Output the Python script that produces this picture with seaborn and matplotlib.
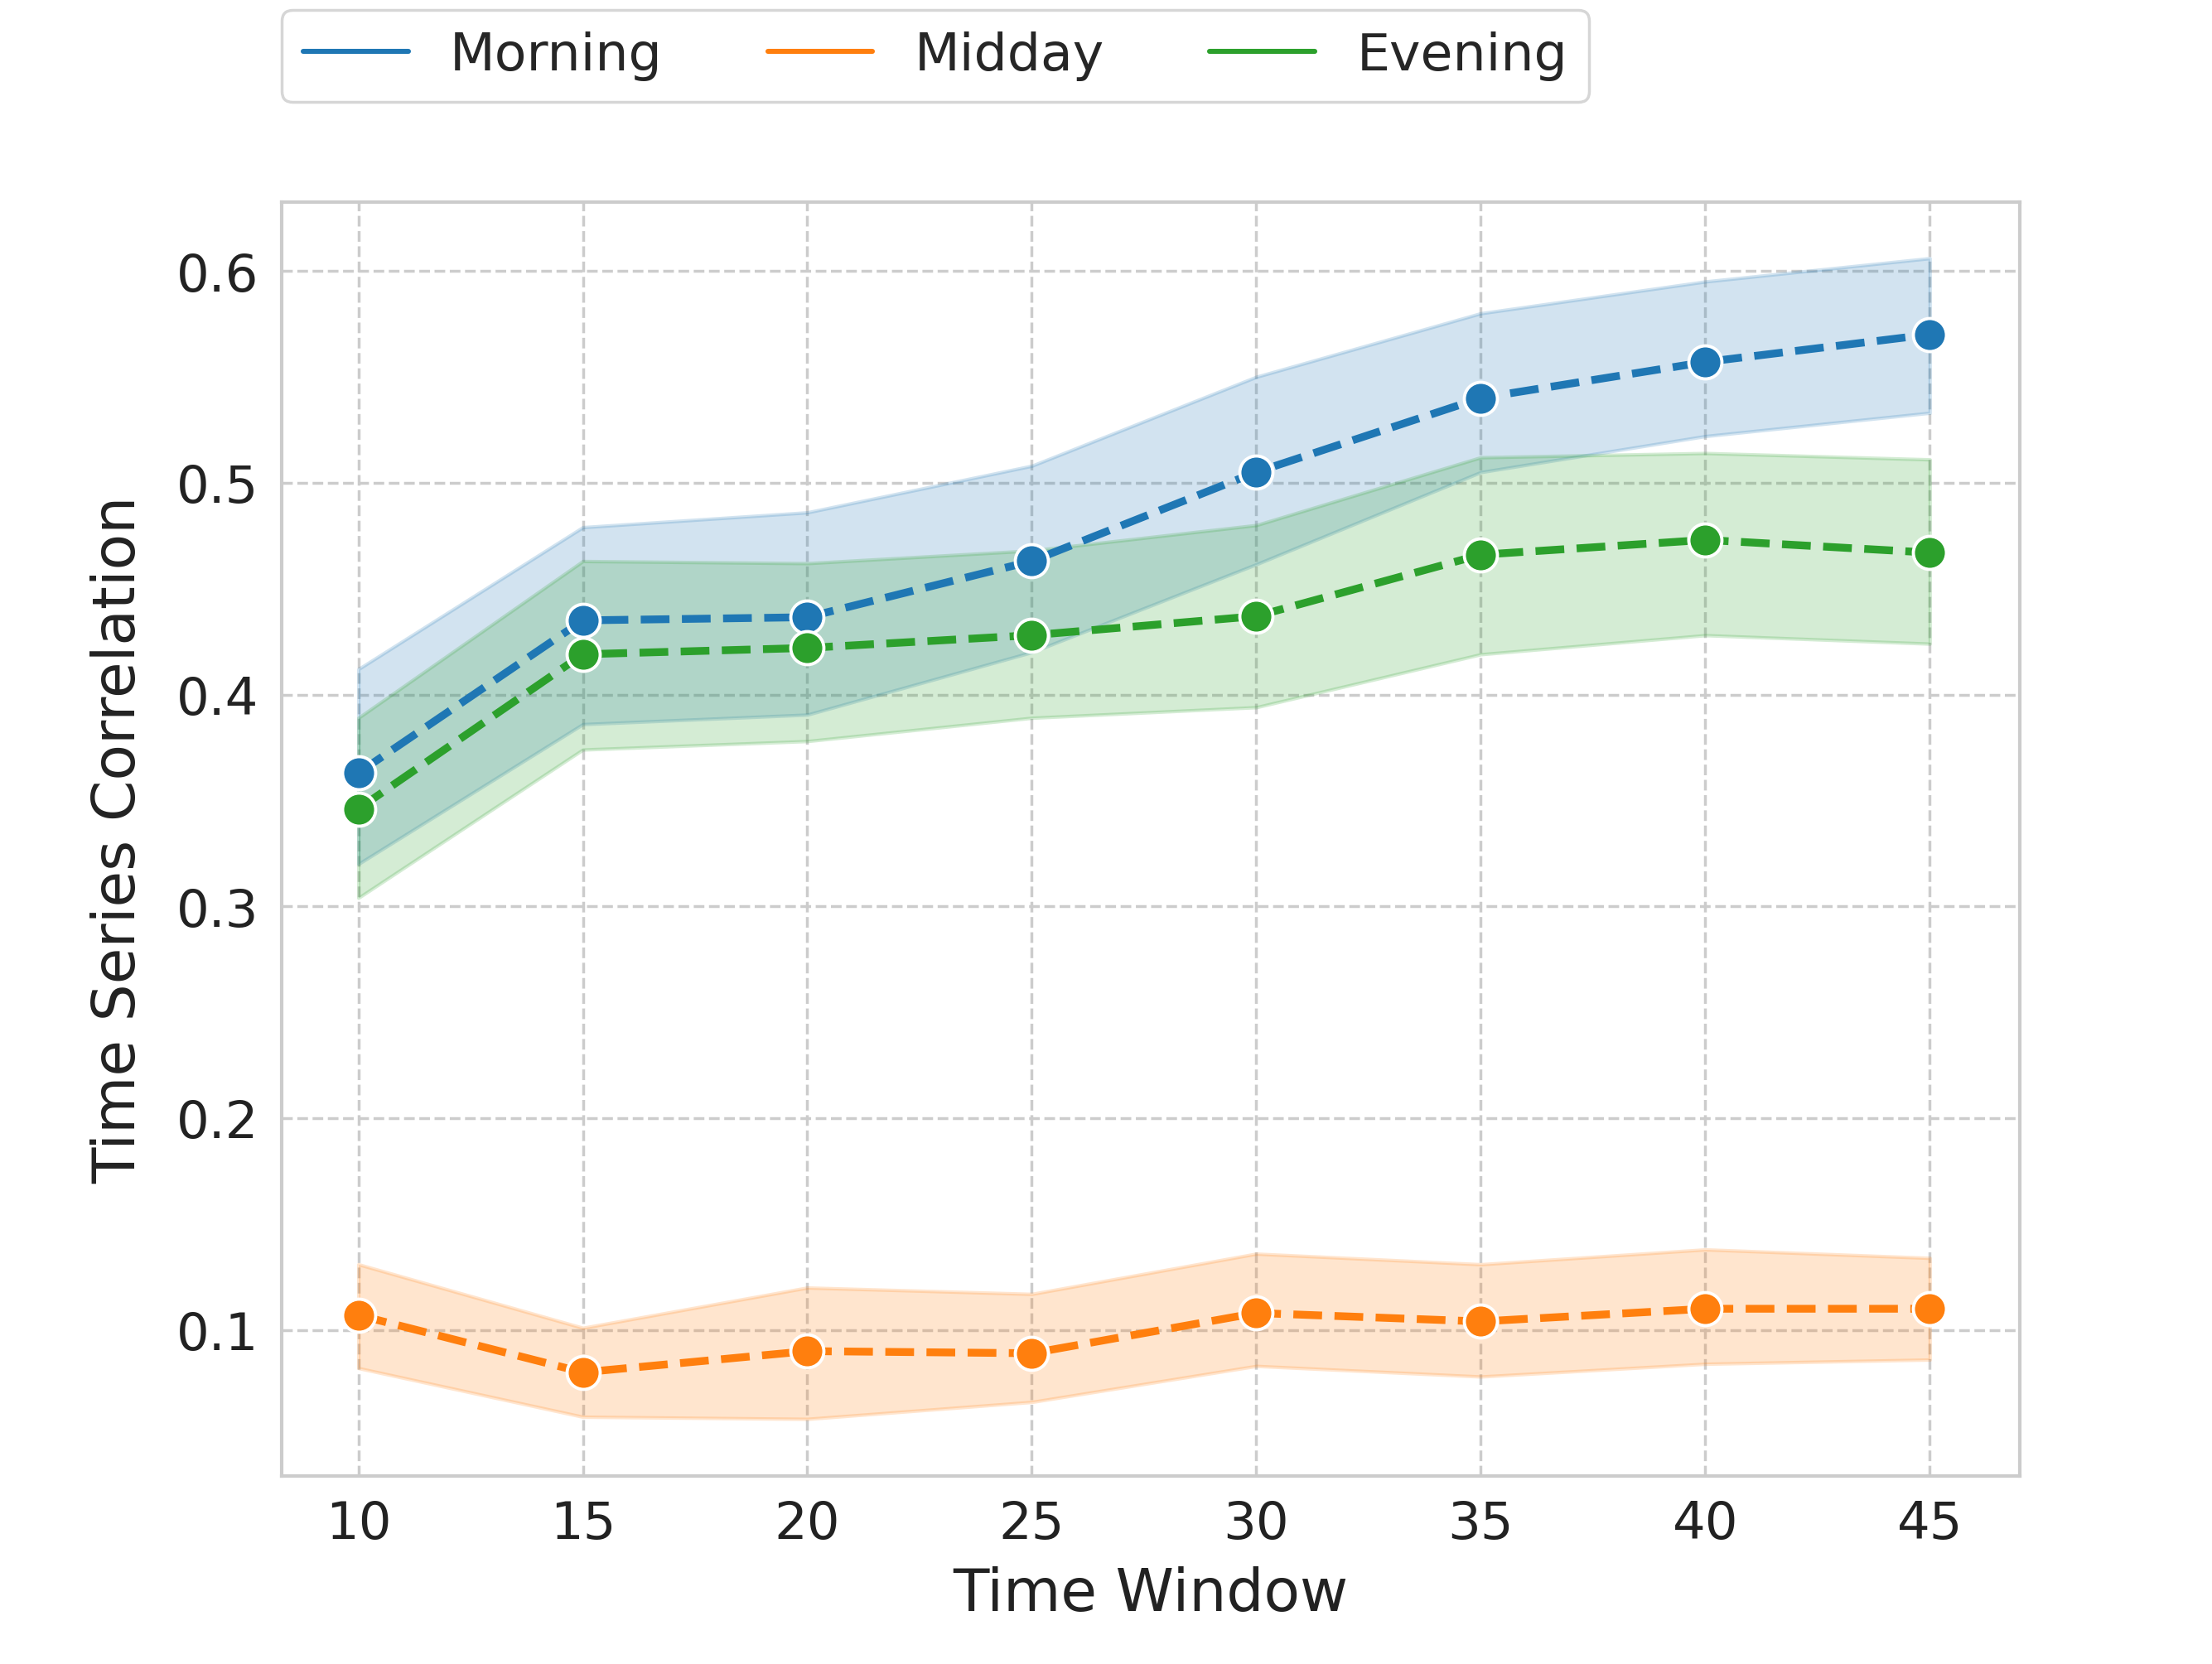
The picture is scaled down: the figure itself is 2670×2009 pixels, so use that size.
import numpy as np
import pandas as pd
import seaborn as sns
import matplotlib
matplotlib.use("Agg")
import matplotlib.pyplot as plt
from matplotlib.lines import Line2D

# ---- data ----
time_windows = [10, 15, 20, 25, 30, 35, 40, 45]
periods = ["Morning", "Midday", "Evening"]

morning_mean = [0.363, 0.435, 0.4365, 0.463, 0.505, 0.540, 0.557, 0.570]
morning_low = [0.320, 0.386, 0.3905, 0.420, 0.4615, 0.505, 0.522, 0.533]
morning_high = [0.412, 0.479, 0.486, 0.508, 0.550, 0.580, 0.595, 0.606]

midday_mean = [0.107, 0.080, 0.090, 0.089, 0.108, 0.104, 0.110, 0.110]
midday_low = [0.082, 0.059, 0.058, 0.066, 0.083, 0.078, 0.084, 0.086]
midday_high = [0.131, 0.101, 0.120, 0.117, 0.136, 0.131, 0.138, 0.134]

evening_mean = [0.346, 0.419, 0.422, 0.428, 0.437, 0.466, 0.473, 0.467]
evening_low = [0.304, 0.374, 0.378, 0.389, 0.394, 0.419, 0.428, 0.424]
evening_high = [0.389, 0.463, 0.462, 0.468, 0.480, 0.512, 0.514, 0.511]

colors = ["#1f77b4", "#ff7f0e", "#2ca02c"]

means = {"Morning": morning_mean, "Midday": midday_mean, "Evening": evening_mean}
lows = {"Morning": morning_low, "Midday": midday_low, "Evening": evening_low}
highs = {"Morning": morning_high, "Midday": midday_high, "Evening": evening_high}

df = pd.DataFrame({
    "Time Window": time_windows * 3,
    "Time Series Correlation": morning_mean + midday_mean + evening_mean,
    "Period": [p for p in periods for _ in time_windows],
})

sns.set_theme(style="whitegrid")
plt.rcParams["font.family"] = ["DejaVu Sans"]

fig = plt.figure(figsize=(10.68, 8.04), dpi=250)
ax = fig.add_axes([0.1275, 0.113, 0.7855, 0.765])

palette = dict(zip(periods, colors))

for p in periods:
    ax.fill_between(time_windows, lows[p], highs[p], color=palette[p],
                    alpha=0.2, linewidth=1.2)

sns.lineplot(data=df, x="Time Window", y="Time Series Correlation",
             hue="Period", palette=palette, marker="o", markersize=11.5,
             markeredgecolor="white", markeredgewidth=1.1,
             linestyle="--", linewidth=2.7, legend=False, ax=ax,
             errorbar=None)

ax.set_xlim(8.3, 47.0)
ax.set_ylim(0.0311, 0.6324)
ax.set_xticks(time_windows)
ax.set_yticks([0.1, 0.2, 0.3, 0.4, 0.5, 0.6])
ax.grid(True, linestyle="--", color="#cccccc", linewidth=1.0)
for s in ax.spines.values():
    s.set_color("#cccccc")
    s.set_linewidth(1.2)
ax.tick_params(labelsize=18, colors="#222222", length=0, pad=8)
ax.set_xlabel("Time Window", fontsize=20.5, color="#222222", labelpad=6)
ax.set_ylabel("Time Series Correlation", fontsize=20.5, color="#222222", labelpad=10)

handles = [Line2D([], [], color=palette[p], linewidth=1.75) for p in periods]
ax.legend(handles, periods, loc="lower left", bbox_to_anchor=(0, 1.079),
          borderaxespad=0, ncol=3, fontsize=18.25, frameon=True,
          columnspacing=2.0, handlelength=2.0)

fig.savefig("out.png", dpi=250)
